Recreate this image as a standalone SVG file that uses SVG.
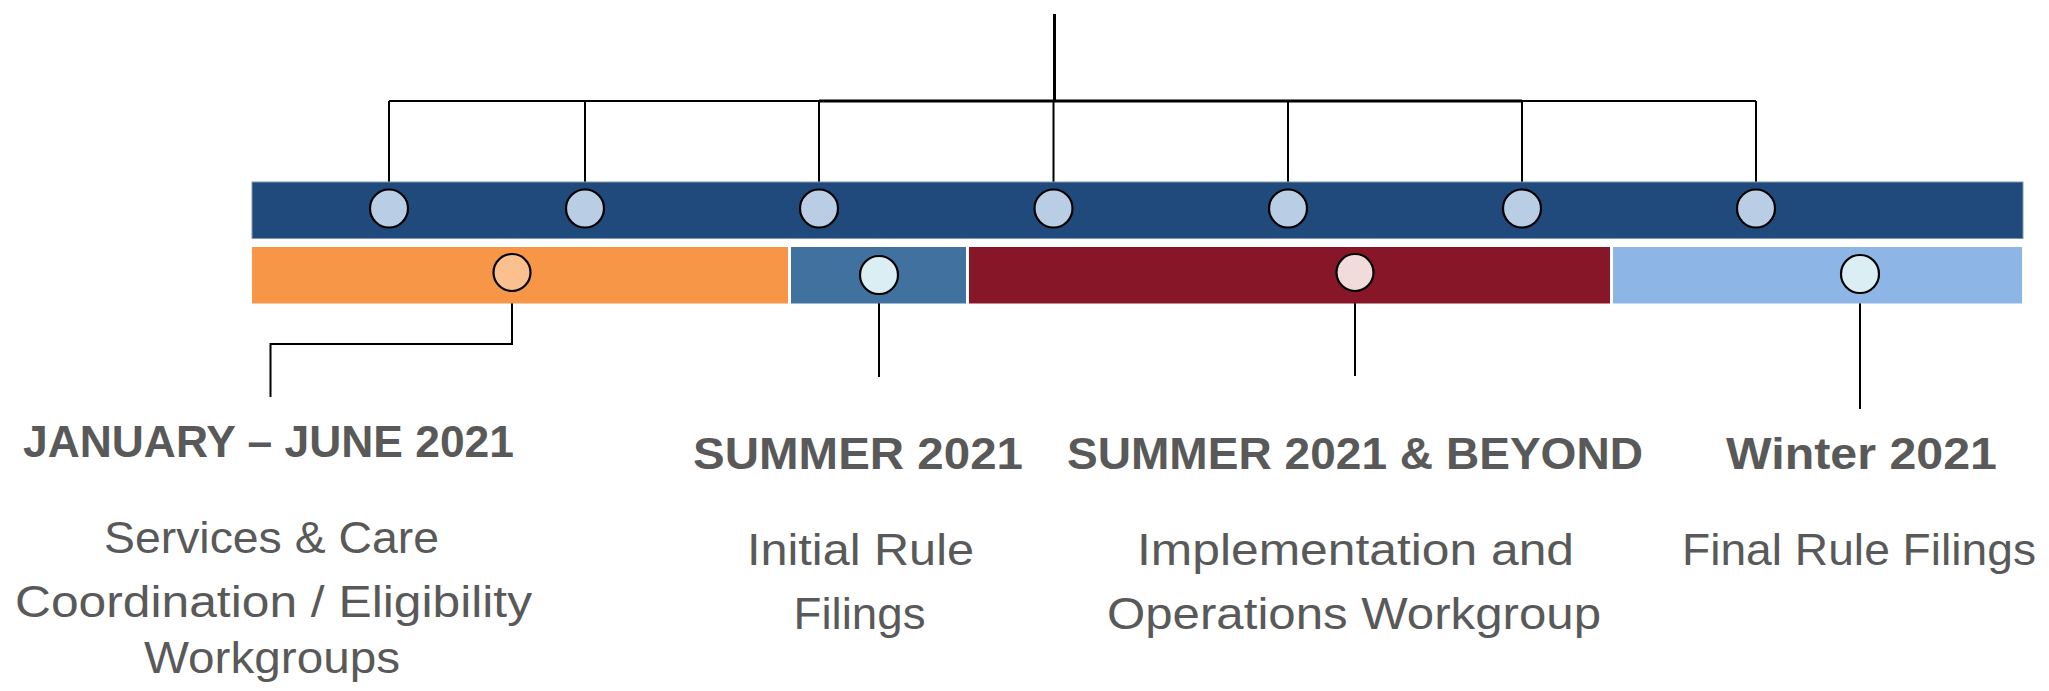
<svg xmlns="http://www.w3.org/2000/svg" width="2049" height="691" viewBox="0 0 2049 691">
<style>
.ln{stroke:#000;fill:none;stroke-width:2}
.dot{stroke:#000;stroke-width:2.2}
.hd{font-family:"Liberation Sans",Arial,sans-serif;font-weight:bold;font-size:44px;fill:#595959;text-anchor:middle}
.tx{font-family:"Liberation Sans",Arial,sans-serif;font-size:45px;fill:#595959;text-anchor:middle}
</style>
<rect width="2049" height="691" fill="#fff"/>
<g id="connectors">
<line class="ln" x1="1054.5" y1="14" x2="1054.5" y2="101" style="stroke-width:3"/>
<line class="ln" x1="389" y1="101" x2="1756" y2="101"/>
<line class="ln" x1="819" y1="101" x2="1522" y2="101" style="stroke-width:3"/>
<line class="ln" x1="389" y1="101" x2="389" y2="189"/>
<line class="ln" x1="585" y1="101" x2="585" y2="189"/>
<line class="ln" x1="819" y1="101" x2="819" y2="189"/>
<line class="ln" x1="1053.5" y1="101" x2="1053.5" y2="189"/>
<line class="ln" x1="1288" y1="101" x2="1288" y2="189"/>
<line class="ln" x1="1522" y1="101" x2="1522" y2="189"/>
<line class="ln" x1="1756" y1="101" x2="1756" y2="189"/>
<polyline class="ln" points="512,291 512,344 270.5,344 270.5,397"/>
<line class="ln" x1="879" y1="294" x2="879" y2="377"/>
<line class="ln" x1="1355" y1="292" x2="1355" y2="376"/>
<line class="ln" x1="1860" y1="293" x2="1860" y2="409"/>
</g>
<g id="timeline-bar">
<rect x="252" y="182" width="1771" height="56.5" fill="#214A7C" stroke="#7F97B6" stroke-width="1"/>
</g>
<g id="milestones">
<circle class="dot" cx="389" cy="208.5" r="19" fill="#B9CDE5"/>
<circle class="dot" cx="585" cy="208.5" r="19" fill="#B9CDE5"/>
<circle class="dot" cx="819" cy="208.5" r="19" fill="#B9CDE5"/>
<circle class="dot" cx="1053.5" cy="208.5" r="19" fill="#B9CDE5"/>
<circle class="dot" cx="1288" cy="208.5" r="19" fill="#B9CDE5"/>
<circle class="dot" cx="1522" cy="208.5" r="19" fill="#B9CDE5"/>
<circle class="dot" cx="1756" cy="208.5" r="19" fill="#B9CDE5"/>
</g>
<g id="phase-jan-jun">
<rect x="252" y="247" width="536" height="56.5" fill="#F79646"/>
<circle class="dot" cx="512" cy="272.5" r="18.5" fill="#FAC090"/>
<text class="hd" x="268.5" y="456.5" textLength="491" lengthAdjust="spacingAndGlyphs">JANUARY – JUNE 2021</text>
<text class="tx" x="271.5" y="553" textLength="335" lengthAdjust="spacingAndGlyphs">Services &amp; Care</text>
<text class="tx" x="273.5" y="616.5" textLength="517" lengthAdjust="spacingAndGlyphs">Coordination / Eligibility</text>
<text class="tx" x="272" y="673" textLength="256" lengthAdjust="spacingAndGlyphs">Workgroups</text>
</g>
<g id="phase-summer">
<rect x="791" y="247" width="175" height="56.5" fill="#41729F"/>
<circle class="dot" cx="879" cy="275" r="19" fill="#DBEEF4"/>
<text class="hd" x="858" y="468.5" textLength="330" lengthAdjust="spacingAndGlyphs">SUMMER 2021</text>
<text class="tx" x="860.5" y="565" textLength="227" lengthAdjust="spacingAndGlyphs">Initial Rule</text>
<text class="tx" x="859.5" y="628.5" textLength="132" lengthAdjust="spacingAndGlyphs">Filings</text>
</g>
<g id="phase-summer-beyond">
<rect x="969" y="247" width="641" height="56.5" fill="#861628"/>
<circle class="dot" cx="1355" cy="272.5" r="18.5" fill="#F2DCDB"/>
<text class="hd" x="1355" y="468.5" textLength="576" lengthAdjust="spacingAndGlyphs">SUMMER 2021 &amp; BEYOND</text>
<text class="tx" x="1355.5" y="565" textLength="437" lengthAdjust="spacingAndGlyphs">Implementation and</text>
<text class="tx" x="1354" y="628.5" textLength="494" lengthAdjust="spacingAndGlyphs">Operations Workgroup</text>
</g>
<g id="phase-winter">
<rect x="1613" y="247" width="409" height="56.5" fill="#8DB6E6"/>
<circle class="dot" cx="1860" cy="274" r="19" fill="#DBEEF4"/>
<text class="hd" x="1861.5" y="468.5" textLength="271" lengthAdjust="spacingAndGlyphs">Winter 2021</text>
<text class="tx" x="1859" y="565" textLength="354" lengthAdjust="spacingAndGlyphs">Final Rule Filings</text>
</g>
</svg>
